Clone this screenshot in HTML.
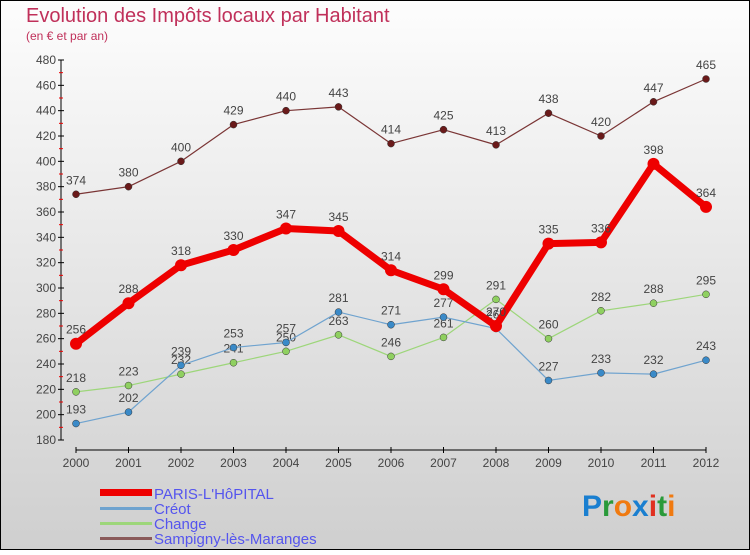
<!DOCTYPE html>
<html><head><meta charset="utf-8"><style>
body{margin:0;width:750px;height:550px;overflow:hidden;font-family:"Liberation Sans",sans-serif}
</style></head><body>
<svg width="750" height="550" xmlns="http://www.w3.org/2000/svg">
<defs><linearGradient id="bg" x1="0" y1="0" x2="0" y2="1"><stop offset="0" stop-color="#fdfdfd"/><stop offset="1" stop-color="#cfcfcf"/></linearGradient></defs>
<rect x="0.5" y="0.5" width="749" height="549" fill="url(#bg)" stroke="#000"/>
<text x="26" y="22" font-size="20" fill="#c0305a">Evolution des Impôts locaux par Habitant</text>
<text x="26" y="40" font-size="12" fill="#c0305a">(en € et par an)</text>
<g id="axes"></g><g id="series"></g>
<g font-size="15" fill="#5555ee">
<rect x="100" y="489" width="52" height="7" fill="#e00"/>
<text x="154" y="499">PARIS-L'HôPITAL</text>
<rect x="100" y="507" width="52" height="3" fill="#6fa3cf"/>
<text x="154" y="514">Créot</text>
<rect x="100" y="522" width="52" height="3" fill="#9dd67a"/>
<text x="154" y="529">Change</text>
<rect x="100" y="537" width="52" height="3" fill="#8a5a5a"/>
<text x="154" y="544">Sampigny-lès-Maranges</text>
</g>
<g font-size="30" font-weight="bold">
<text x="582" y="516"><tspan fill="#1a7fd0">P</tspan><tspan fill="#2a9a3a">r</tspan><tspan fill="#f07a10">o</tspan><tspan fill="#1a7fd0">x</tspan><tspan fill="#e03020">i</tspan><tspan fill="#2a9a3a">t</tspan><tspan fill="#f07a10">i</tspan></text>
</g>
</svg>
<script>
const years=[2000,2001,2002,2003,2004,2005,2006,2007,2008,2009,2010,2011,2012];
const paris=[256,288,318,330,347,345,314,299,270,335,336,398,364];
const creot=[193,202,239,253,257,281,271,277,268,227,233,232,243];
const change=[218,223,232,241,250,263,246,261,291,260,282,288,295];
const sampigny=[374,380,400,429,440,443,414,425,413,438,420,447,465];
const yTicks=[180,200,220,240,260,280,300,320,340,360,380,400,420,440,460,480];
const NS="http://www.w3.org/2000/svg";
const X=i=>76+i*52.5, Y=v=>440-(v-180)*380/300;
function mk(t,a,p){const e=document.createElementNS(NS,t);for(const k in a)e.setAttribute(k,a[k]);p.appendChild(e);return e;}
const ax=document.getElementById('axes');
let e=mk('line',{x1:61,y1:60,x2:61,y2:440,stroke:'#000','stroke-width':1},ax);


yTicks.forEach((v,i)=>{
 mk('line',{x1:58,x2:64,y1:Y(v),y2:Y(v),stroke:'#000'},ax);
 if(i<yTicks.length-1) mk('line',{x1:59,x2:63,y1:Y(v+10),y2:Y(v+10),stroke:'#e00'},ax);
 const t=mk('text',{x:56,y:Y(v)+4,'text-anchor':'end','font-size':12,fill:'#444'},ax);t.textContent=v;
 
 
});
e=mk('line',{x1:76,y1:450,x2:706,y2:450,stroke:'#000'},ax);


years.forEach((y,i)=>{
 mk('line',{x1:X(i),x2:X(i),y1:447,y2:453,stroke:'#000'},ax);
 const t=mk('text',{x:X(i),y:467,'text-anchor':'middle','font-size':12,fill:'#444'},ax);t.textContent=y;
 
 
});
const sg=document.getElementById('series');
function draw(name,vals,color,w,r,dot){
 const g=mk('g',{},sg);
 
 
 mk('polyline',{points:vals.map((v,i)=>X(i)+','+Y(v)).join(' '),fill:'none',stroke:color,'stroke-width':w,'stroke-linejoin':'round'},g);
 vals.forEach((v,i)=>{
  const c=mk('circle',{cx:X(i),cy:Y(v),r:r,fill:dot,stroke:'#333','stroke-width':r>4?0:0.5},g);
  
  
  const t=mk('text',{x:X(i),y:Y(v)-10,'text-anchor':'middle','font-size':12,fill:'#444'},g);t.textContent=v;
  
  
 });
}
draw('sampigny',sampigny,'#7a3535',1.2,3.5,'#6a1a1a');
draw('change',change,'#9dd67a',1.2,3.5,'#8fd060');
draw('creot',creot,'#6fa3cf',1.2,3.5,'#3a8ac8');
draw('paris',paris,'#ee0000',7,6,'#ee0000');
</script>
</body></html>
